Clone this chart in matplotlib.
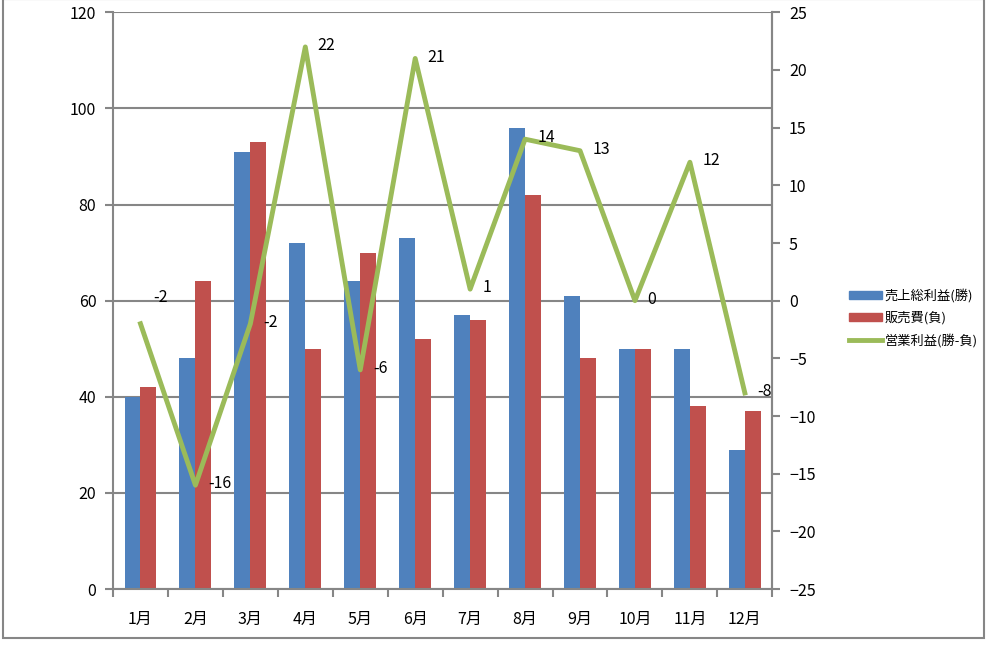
import numpy as np
import matplotlib
matplotlib.use('Agg')
import matplotlib.pyplot as plt
from matplotlib.patches import Rectangle
from matplotlib.lines import Line2D

plt.rcParams['font.family'] = ['Noto Sans CJK JP', 'DejaVu Sans']

# --- データ ---
months = ['1月', '2月', '3月', '4月', '5月', '6月', '7月', '8月', '9月', '10月', '11月', '12月']
gross_profit = [40, 48, 91, 72, 64, 73, 57, 96, 61, 50, 50, 29]   # 売上総利益(勝)
sales_cost = [42, 64, 93, 50, 70, 52, 56, 82, 48, 50, 38, 37]     # 販売費(負)
op_profit = [-2, -16, -2, 22, -6, 21, 1, 14, 13, 0, 12, -8]       # 営業利益(勝-負)

blue = '#4F81BD'
red = '#C0504D'
green = '#9BBB59'
gray = '#868686'

fig = plt.figure(figsize=(9.87, 6.48), dpi=100)
ax = fig.add_axes([0.1145, 0.091, 0.668, 0.890])

x = np.arange(len(months))
w = 0.29
ax.bar(x - w / 2, gross_profit, width=w, color=blue, zorder=2)
ax.bar(x + w / 2, sales_cost, width=w, color=red, zorder=2)

ax.set_xlim(-0.5, len(months) - 0.5)
ax.set_ylim(0, 120)
ax.set_yticks(range(0, 121, 20))
ax.grid(axis='y', color=gray, linewidth=1.5, zorder=0)
ax.set_xticks(x)
ax.set_xticklabels(months, fontsize=11.5)
ax.set_xticks(np.arange(-0.5, len(months), 1), minor=True)
ax.tick_params(axis='x', which='major', length=0, pad=16)
ax.tick_params(axis='x', which='minor', length=6, color=gray, width=1.5, direction='out')
ax.tick_params(axis='y', length=6, color=gray, width=1.5, labelsize=11.5, pad=6)
ax.spines['top'].set_visible(False)
for s in ['left', 'bottom', 'right']:
    ax.spines[s].set_color(gray)
    ax.spines[s].set_linewidth(1.5)

ax2 = ax.twinx()
ax2.plot(x, op_profit, color=green, linewidth=3.5, zorder=3)
ax2.set_ylim(-25, 25)
ax2.set_yticks(range(-25, 26, 5))
ax2.tick_params(axis='y', length=6, color=gray, width=1.5, labelsize=11.5, pad=6)
for s in ['top', 'left', 'bottom']:
    ax2.spines[s].set_visible(False)
ax2.spines['right'].set_color(gray)
ax2.spines['right'].set_linewidth(1.5)

# データラベル（右側）
for i, (xi, v) in enumerate(zip(x, op_profit)):
    dy = 19 if i == 0 else 1
    ax2.annotate(str(v), (xi, v), xytext=(9, dy), textcoords='offset points',
                 fontsize=11.5, va='center', ha='left', zorder=4)

handles = [Rectangle((0, 0), 1, 1, color=blue),
           Rectangle((0, 0), 1, 1, color=red),
           Line2D([], [], color=green, linewidth=3.5)]
fig.legend(handles, ['売上総利益(勝)', '販売費(負)', '営業利益(勝-負)'],
           loc='center left', bbox_to_anchor=(0.848, 0.509), frameon=False,
           fontsize=9.5, handlelength=2.5, handleheight=0.5, labelspacing=0.65,
           handletextpad=0.2)

fig.patches.append(Rectangle((0.003, 0.016), 0.994, 0.985, transform=fig.transFigure,
                             fill=False, edgecolor=gray, linewidth=1.5))

fig.savefig('out.png', dpi=100)
